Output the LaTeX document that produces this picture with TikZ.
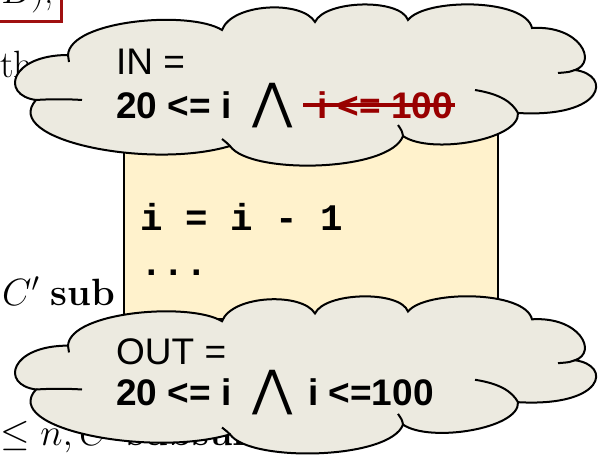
\RequirePackage{fix-cm}
\documentclass[tikz,border=0pt]{standalone}
\usepackage{fontspec}
\usetikzlibrary{positioning}
\newfontfamily\arialfont{Liberation Sans}
\newfontfamily\courfont{Liberation Mono}
\newfontfamily\symfont{DejaVu Sans}
\definecolor{cloudfill}{RGB}{236,234,224}
\definecolor{boxfill}{RGB}{255,242,204}
\definecolor{strikered}{RGB}{153,0,0}
\definecolor{framered}{RGB}{160,16,16}
\tikzset{
  puff/.style={draw, line width=2pt, fill=cloudfill},
  fold/.style={draw, line width=2pt},
  codebox/.style={draw, line width=1.6pt, fill=boxfill, inner sep=0pt},
  lbl/.style={font=\arialfont\fontsize{37}{44}\selectfont, inner sep=0pt, anchor=base west},
  cond/.style={lbl, font=\arialfont\bfseries\fontsize{37}{44}\selectfont},
  code/.style={font=\courfont\bfseries\fontsize{37.5}{44}\selectfont, inner sep=0pt,
               anchor=base west},
  slide/.style={font=\fontsize{38}{44}\selectfont, inner sep=0pt, anchor=base west},
  wedge/.style={font=\symfont\fontsize{49}{49}\selectfont, inner sep=0pt, anchor=south},
  strike/.style={strikered, line width=3.5pt},
}
% one cloud, drawn in pixel coordinates of the upper one
\newcommand{\puffcloud}{%
  \path[puff] (68,55) .. controls (70,20) and (190,10) .. (222,30)
    .. controls (232,3) and (302,0) .. (315,22)
    .. controls (325,0) and (400,-2) .. (408,20)
    .. controls (425,-2) and (525,-2) .. (532,28)
    .. controls (580,25) and (598,62) .. (575,70)
    .. controls (612,75) and (605,118) .. (518,113)
    .. controls (520,140) and (430,155) .. (403,136)
    .. controls (390,172) and (250,175) .. (230,146)
    .. controls (150,170) and (0,140) .. (36,100)
    .. controls (0,95) and (10,55) .. cycle;
  \path[fold] (36,100) .. controls (50,99) and (68,99) .. (82,100);
  \path[fold] (575,70) .. controls (570,72) .. (558,73);
  \path[fold] (475,90) .. controls (500,94) and (512,102) .. (518,113);
  \path[fold] (230,146) .. controls (227,143) .. (222,139);
  \path[fold] (403,136) .. controls (402,131) .. (398,125);
  \path[fold] (68,55) .. controls (69,58) .. (69,62);
}

\begin{document}
\begin{tikzpicture}[x=1pt,y=-1pt]
  \useasboundingbox (0,0) rectangle (602,455);
  % slide text behind the clouds
  \node[slide, anchor=base east, draw=framered, line width=3pt, inner xsep=7pt,
        inner ysep=8pt] (bcell) at (63,4) {$B$);};
  \node[slide] (the) at (0,77) {the};
  \node[slide] (csub) at (2,305) {$C'$ \textbf{sub}};
  \node[slide] (clast) at (0,445) {$\leq n, C'$ \textbf{subsumes}};
  % code block
  \node[codebox, minimum width=374pt, minimum height=200pt, anchor=north west] (blk)
    at (123,118) {};
  \node[code] (dec) at (140,230) {i = i - 1};
  \node[code] (dots) at (140,275) {...};
  % pre / post clouds
  \begin{scope}
    \puffcloud
  \end{scope}
  \begin{scope}[shift={(0,292)}, yscale=0.975]
    \puffcloud
  \end{scope}
  \node[lbl] (inlbl) at (116,74) {IN =};
  \node[cond] (inlo) at (116,118) {20 <= i};
  \node[wedge] (inand) at (273,128) {⋀};
  \node[cond, text=strikered] (inhi) at (317,118) {i <= 100};
  \draw[strike] ([xshift=-14pt,yshift=13pt]inhi.base west) -- ([xshift=2pt,yshift=13pt]inhi.base east);
  \node[lbl] (outlbl) at (116,364) {OUT =};
  \node[cond] (outlo) at (116,405) {20 <= i};
  \node[wedge] (outand) at (273,415) {⋀};
  \node[cond] (outhi) at (308,405) {i <=100};
\end{tikzpicture}
\end{document}
